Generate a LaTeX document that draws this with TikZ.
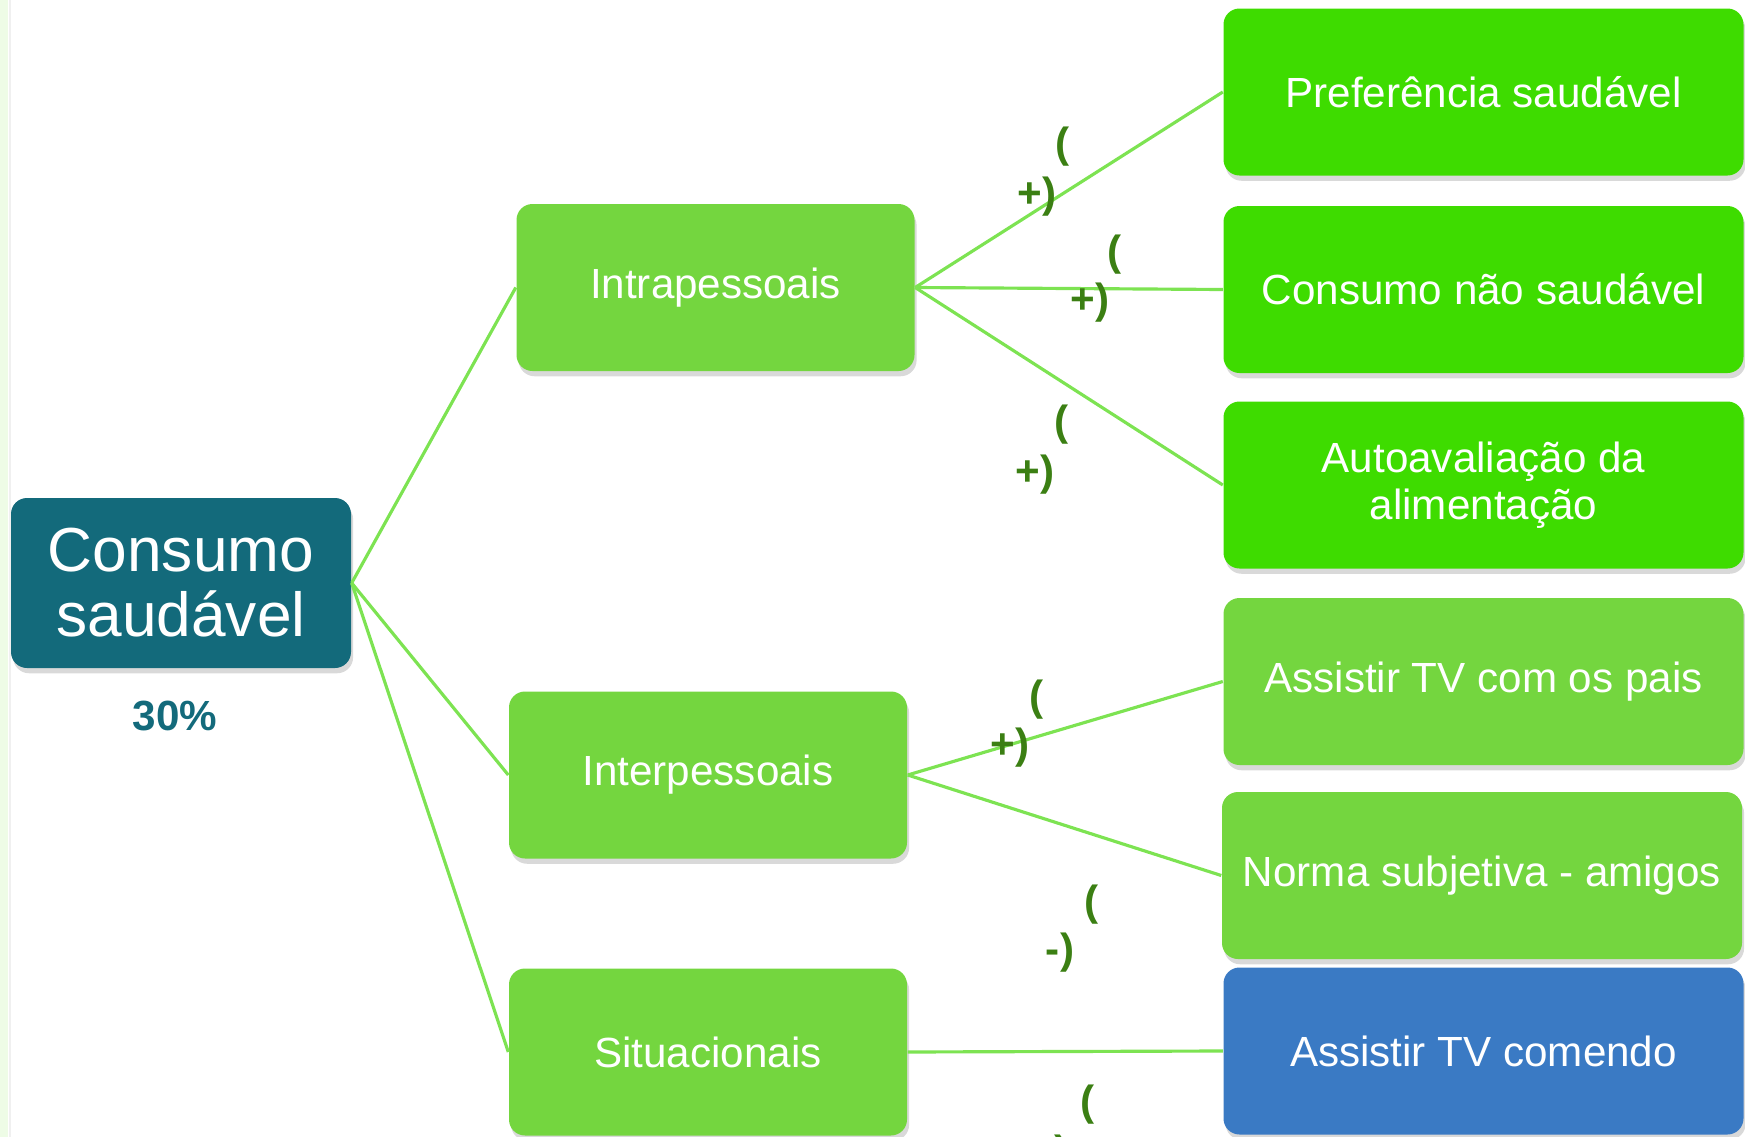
\documentclass[tikz,border=0pt]{standalone}
\usepackage{fontspec}
\setmainfont{Liberation Sans}
\usetikzlibrary{positioning,shadows}

\definecolor{raizcor}{HTML}{136A7B}
\definecolor{fatorcor}{HTML}{74D63F}
\definecolor{fortecor}{HTML}{3EDC00}
\definecolor{azulcor}{HTML}{3A7AC4}
\definecolor{ligacor}{HTML}{7DE352}
\definecolor{sinalcor}{HTML}{3B7F13}
\definecolor{bordacor}{HTML}{EEFCE6}

\tikzset{
  caixa/.style={rectangle, rounded corners=0.16cm, text=white, align=center,
    inner sep=0pt, font=\fontsize{12}{13.5}\selectfont,
    drop shadow={shadow xshift=0.6pt, shadow yshift=-1.5pt, opacity=0.3}},
  raiz/.style={caixa, fill=raizcor, minimum width=3.40cm, minimum height=1.70cm,
    font=\fontsize{17.7}{18.5}\selectfont},
  fator/.style={caixa, fill=fatorcor, minimum width=3.98cm, minimum height=1.67cm},
  item/.style={caixa, fill=fatorcor, minimum width=5.20cm, minimum height=1.67cm},
  itemforte/.style={item, fill=fortecor},
  itemazul/.style={item, fill=azulcor},
  liga/.style={draw=ligacor, line width=0.9pt},
  sinal/.style={text=sinalcor, font=\bfseries\fontsize{12}{12}\selectfont, inner sep=0pt}
}

\begin{document}
\begin{tikzpicture}
      % Fix the page
      \useasboundingbox (0,0) rectangle (17.45,-11.37);
      \clip (0,0) rectangle (17.45,-11.37);
      \fill[bordacor] (0,0) rectangle (0.08,-11.37);
      \draw[gray!12, line width=0.6pt] (0.10,0) -- (0.10,-11.37);

      % Draw the root
      \node[raiz] (raiz) at (1.81,-5.83) {Consumo\\saudável};
      \node[text=raizcor, font=\bfseries\fontsize{12}{12}\selectfont] (pct) at (1.75,-7.16) {30\%};

      % Draw the factors
      \node[fator] (intra) at (7.155,-2.875) {Intrapessoais};
      \node[fator] (inter) at (7.08,-7.75) {Interpessoais};
      \node[fator] (situ) at (7.08,-10.52) {Situacionais};

      % Draw the items
      \node[itemforte] (pref) at (14.835,-0.92) {Preferência saudável};
      \node[itemforte] (naosaud) at (14.835,-2.895) {Consumo não saudável};
      \node[itemforte] (auto) at (14.835,-4.85) {Autoavaliação da\\alimentação};
      \node[item] (pais) at (14.835,-6.815) {Assistir TV com os pais};
      \node[item] (norma) at (14.82,-8.755) {Norma subjetiva - amigos};
      \node[itemazul] (comendo) at (14.835,-10.51) {Assistir TV comendo};

      % Draw the links
      \foreach \a/\b in {raiz/intra, raiz/inter, raiz/situ, intra/pref, intra/naosaud,
        intra/auto, inter/pais, inter/norma, situ/comendo}
        \draw[liga] (\a.east) -- (\b.west);

      % Draw the signs
      \foreach \i/\xa/\ya/\xb/\yb/\s in {1/10.63/-1.47/10.37/-1.97/+, 2/11.15/-2.55/10.90/-3.03/+,
        3/10.62/-4.25/10.35/-4.75/+, 4/10.37/-7.00/10.10/-7.48/+,
        5/10.92/-9.05/10.60/-9.53/-, 6/10.88/-11.05/10.62/-11.55/}
      {
        \node[sinal] (abre\i) at (\xa,\ya) {(};
        \node[sinal] (fecha\i) at (\xb,\yb) {\s)};
      }
\end{tikzpicture}
\end{document}
